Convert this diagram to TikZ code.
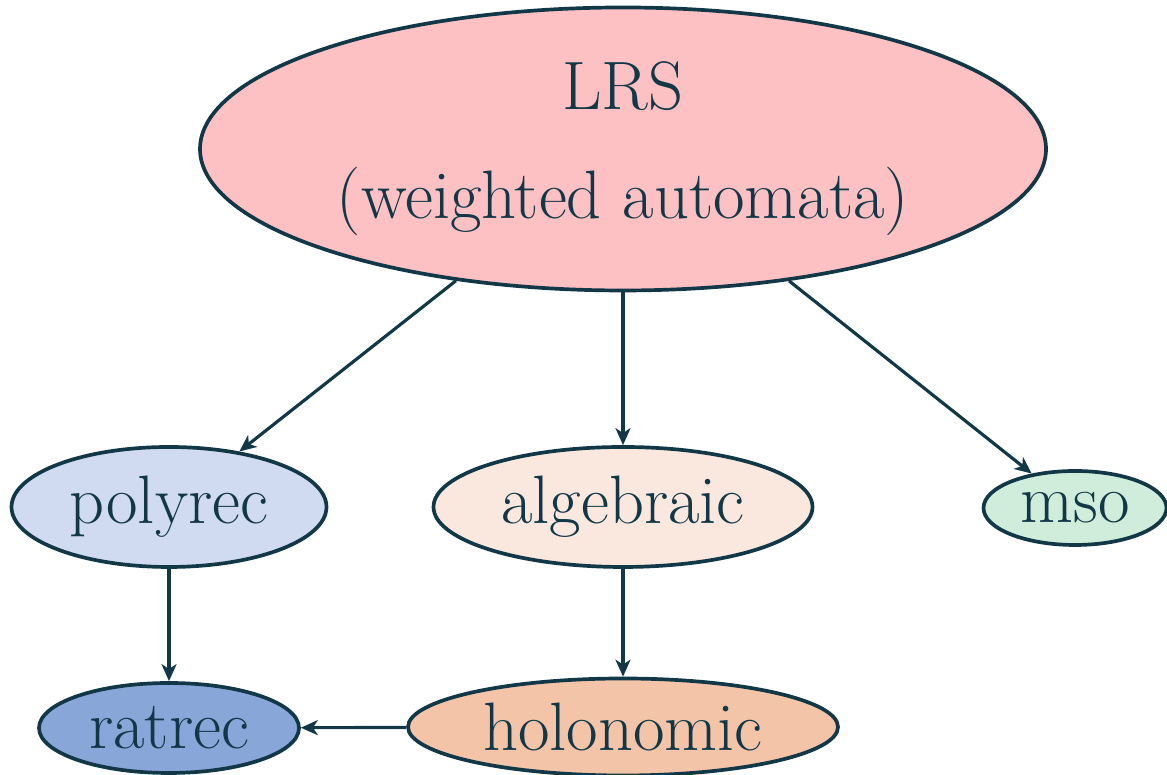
\documentclass[tikz,border=0pt]{standalone}
\usetikzlibrary{shapes.geometric,arrows.meta}
\definecolor{inkc}{RGB}{18,56,72}
\definecolor{lrsc}{RGB}{253,193,196}
\definecolor{polyc}{RGB}{208,219,242}
\definecolor{algc}{RGB}{250,232,222}
\definecolor{msoc}{RGB}{208,236,218}
\definecolor{ratc}{RGB}{136,166,216}
\definecolor{holoc}{RGB}{243,196,168}
\begin{document}
\begin{tikzpicture}[
  every node/.style={font=\fontsize{19.5}{23}\selectfont, text=inkc},
  cls/.style={ellipse, draw=inkc, line width=1.05pt, inner sep=0pt},
  edge/.style={draw=inkc, line width=0.9pt, -{Stealth[length=1.7mm,width=1.5mm,inset=0.5mm]}}
]
\useasboundingbox (0,0) rectangle (11.67,7.75);
% nodes
\node[cls, fill=lrsc, minimum width=8.46cm, minimum height=2.83cm, align=center]
  (lrs) at (6.23,6.26) {LRS\\[8pt](weighted automata)};
\node[cls, fill=polyc, minimum width=3.15cm, minimum height=1.20cm] (polyrec) at (1.69,2.68) {polyrec};
\node[cls, fill=algc, minimum width=3.79cm, minimum height=1.20cm] (algebraic) at (6.23,2.68) {algebraic};
\node[cls, fill=msoc, minimum width=1.83cm, minimum height=0.74cm] (mso) at (10.75,2.67) {mso};
\node[cls, fill=ratc, minimum width=2.60cm, minimum height=0.90cm] (ratrec) at (1.69,0.47) {ratrec};
\node[cls, fill=holoc, minimum width=4.30cm, minimum height=0.97cm] (holonomic) at (6.23,0.48) {holonomic};
% edges
\draw[edge] (lrs) -- (polyrec);
\draw[edge] (lrs) -- (algebraic);
\draw[edge] (lrs) -- (mso);
\draw[edge] (polyrec) -- (ratrec);
\draw[edge] (algebraic) -- (holonomic);
\draw[edge] (holonomic) -- (ratrec);
\end{tikzpicture}
\end{document}
